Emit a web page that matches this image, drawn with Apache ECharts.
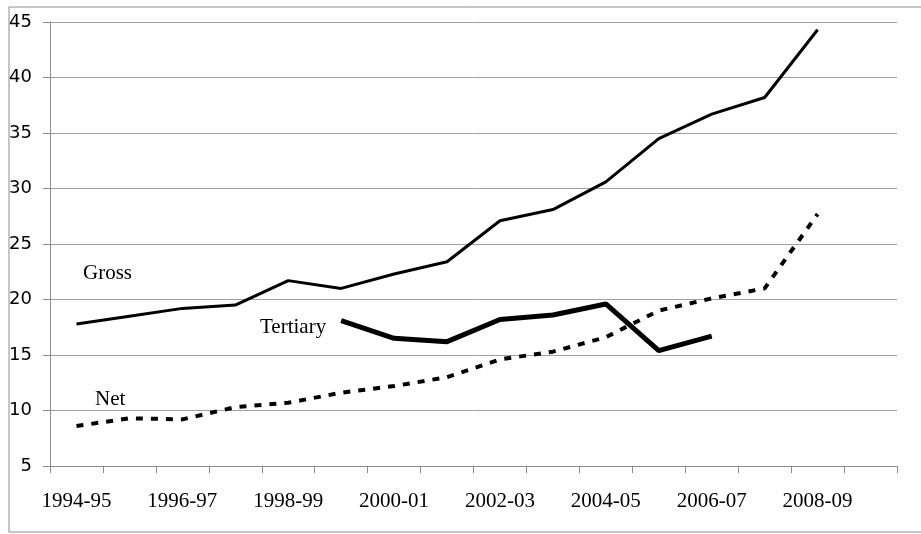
<!DOCTYPE html>
<html>
<head>
    <meta charset="UTF-8">
    <title>Enrolment ratios</title>
    <style type="text/css">
        html, body {
            margin: 0;
            padding: 0;
            background: #ffffff;
        }

        #chart {
            width: 921px;
            height: 534px;
        }
    </style>
    <script type="text/javascript" src="https://cdn.jsdelivr.net/npm/echarts@6/dist/echarts.min.js"></script>
</head>
<body>
<div id="chart"></div>
<script type="text/javascript">
    // categories (16 slots, labels shown every other year)
    var years = ['1994-95', '1995-96', '1996-97', '1997-98', '1998-99', '1999-00', '2000-01', '2001-02',
        '2002-03', '2003-04', '2004-05', '2005-06', '2006-07', '2007-08', '2008-09', '2009-10'];

    var gross = [17.8, 18.5, 19.2, 19.5, 21.7, 21.0, 22.3, 23.4, 27.1, 28.1, 30.6, 34.5, 36.7, 38.2, 44.3, null];
    var net = [8.6, 9.3, 9.2, 10.3, 10.7, 11.6, 12.2, 13.0, 14.6, 15.3, 16.6, 19.0, 20.1, 21.0, 27.7, null];
    var tertiary = [null, null, null, null, null, 18.1, 16.5, 16.2, 18.2, 18.6, 19.6, 15.4, 16.7, null, null, null];

    var yTicks = [5, 10, 15, 20, 25, 30, 35, 40, 45];

    var myChart = echarts.init(document.getElementById('chart'));

    var option = {
        animation: false,
        grid: {
            left: 50,
            right: 24,
            top: 22,
            bottom: 68
        },
        graphic: [
            {
                type: 'rect',
                shape: {x: 9, y: 7, width: 940, height: 525},
                style: {fill: 'none', stroke: '#8c8c8c', lineWidth: 1}
            },
            {
                type: 'text', left: 83, top: 263,
                style: {text: 'Gross', font: '21px "Liberation Serif"', fill: '#000'}
            },
            {
                type: 'text', left: 260, top: 317,
                style: {text: 'Tertiary', font: '21px "Liberation Serif"', fill: '#000'}
            },
            {
                type: 'text', left: 95, top: 389,
                style: {text: 'Net', font: '21px "Liberation Serif"', fill: '#000'}
            }
        ],
        xAxis: {
            type: 'category',
            boundaryGap: true,
            data: years,
            axisLine: {lineStyle: {color: '#8c8c8c', width: 1}},
            axisTick: {show: true, length: 7, interval: 0, lineStyle: {color: '#8c8c8c'}},
            axisLabel: {
                interval: 1,
                margin: 25,
                color: '#000',
                fontFamily: 'Liberation Serif',
                fontSize: 21
            },
            splitLine: {show: false}
        },
        yAxis: {
            type: 'value',
            min: yTicks[0],
            max: yTicks[yTicks.length - 1],
            interval: 5,
            axisLine: {show: true, lineStyle: {color: '#8c8c8c', width: 1}},
            axisTick: {show: true, length: 7, lineStyle: {color: '#8c8c8c'}},
            axisLabel: {
                margin: 18,
                color: '#000',
                fontFamily: 'DejaVu Sans',
                fontSize: 18,
                padding: [2, 0, 0, 0]
            },
            splitLine: {lineStyle: {color: '#a0a0a0', width: 1}}
        },
        series: [
            {
                name: 'Gross',
                type: 'line',
                data: gross,
                showSymbol: false,
                lineStyle: {color: '#000', width: 3}
            },
            {
                name: 'Tertiary',
                type: 'line',
                data: tertiary,
                showSymbol: false,
                lineStyle: {color: '#000', width: 5}
            },
            {
                name: 'Net',
                type: 'line',
                data: net,
                showSymbol: false,
                lineStyle: {color: '#000', width: 4, type: [7, 8]}
            }
        ]
    };
    myChart.setOption(option);
</script>
</body>
</html>
